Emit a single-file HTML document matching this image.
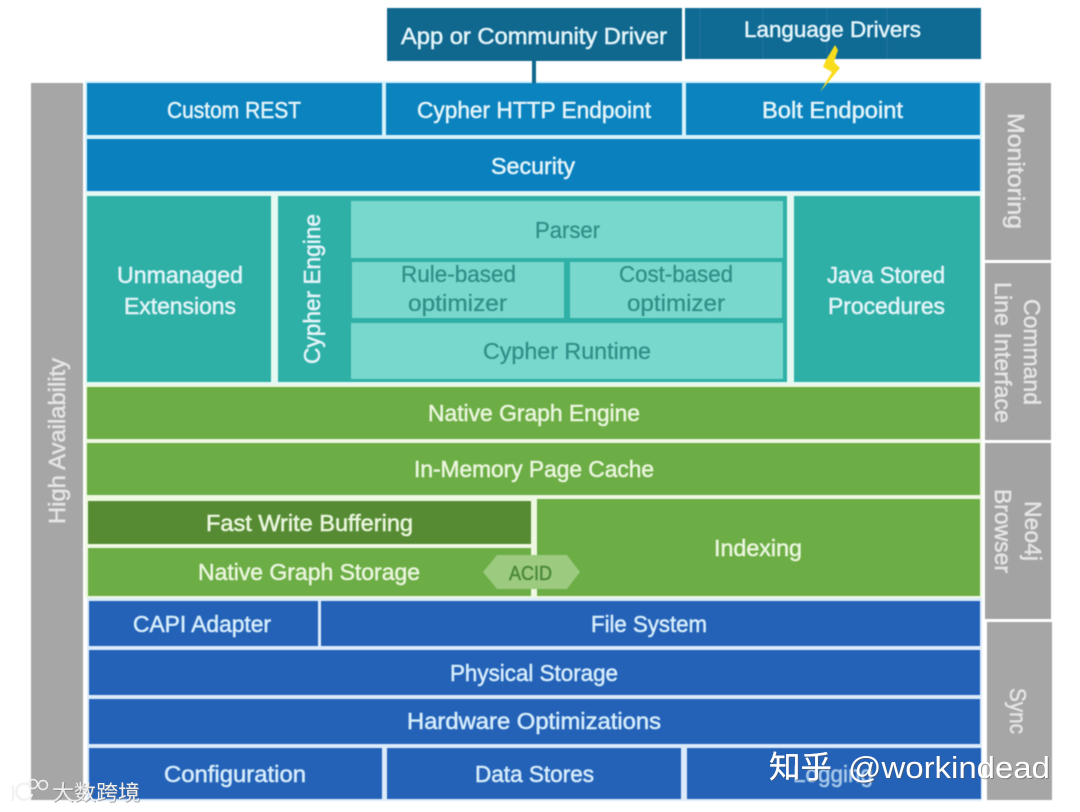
<!DOCTYPE html>
<html><head><meta charset="utf-8"><style>
html,body{margin:0;padding:0;background:#fff;width:1080px;height:812px;overflow:hidden}
svg{display:block;position:absolute;left:0;top:0}
#d{filter:blur(.6px)}
#d text{font-family:"Liberation Sans","Noto Sans CJK SC",sans-serif;font-size:23px;fill:#e2f3f8;stroke:#e2f3f8;stroke-width:.55px}
#m text{font-family:"Liberation Sans","Noto Sans CJK SC",sans-serif}
#d .t{fill:#2f908a;stroke:#2f908a;stroke-width:.3px}
#d .g{fill:#e9f5dc;stroke:#e9f5dc}
#d .w{fill:#e4e4e4;stroke:#e4e4e4}
#d .b{fill:#d5ecfa;stroke:#d5ecfa}
</style></head><body>
<svg id="d" width="1080" height="812" viewBox="0 0 1080 812" xmlns="http://www.w3.org/2000/svg">
<rect width="1080" height="812" fill="#fff"/>
<rect x="85" y="81" width="897" height="111" fill="#d8f2fb"/>
<rect x="85" y="192" width="897" height="193" fill="#e6f8f2"/>
<rect x="85" y="385" width="897" height="213" fill="#eef8e2"/>
<rect x="87" y="598" width="895" height="203" fill="#dcebfa"/>
<rect x="387" y="8" width="295" height="53" fill="#10688f"/>
<rect x="685" y="8" width="296" height="51" fill="#0f6a94"/>
<rect x="532" y="61" width="4" height="22" fill="#10688f"/>
<g stroke="#2f80a8" stroke-width="1" opacity=".6"><path d="M700 8V59M763 8V59M827 8V59M887 8V59"/></g>
<rect x="87" y="83" width="295" height="52" fill="#0a83bf"/>
<rect x="386" y="83" width="296" height="52" fill="#0a83bf"/>
<rect x="686" y="83" width="294" height="52" fill="#0a83bf"/>
<rect x="87" y="139" width="893" height="52" fill="#0a80bf"/>
<rect x="87" y="196" width="184" height="186" fill="#2eb0a6"/>
<rect x="278" y="196" width="509" height="186" fill="#2eb0a6"/>
<rect x="794" y="196" width="186" height="186" fill="#2eb0a6"/>
<rect x="351" y="201" width="432" height="57" fill="#79d8cd"/>
<rect x="352" y="262" width="212" height="56" fill="#79d8cd"/>
<rect x="570" y="262" width="212" height="56" fill="#79d8cd"/>
<rect x="351" y="323" width="432" height="56" fill="#79d8cd"/>
<rect x="87" y="387" width="893" height="52" fill="#6cad45"/>
<rect x="87" y="443" width="893" height="52" fill="#6cad45"/>
<rect x="88" y="501" width="443" height="43" fill="#568b34"/>
<rect x="88" y="548" width="443" height="48" fill="#6cad45"/>
<rect x="537" y="499" width="443" height="97" fill="#6cad45"/>
<polygon points="483,572 497,555 567,555 580,572 567,589 497,589" fill="#9ccb80"/>
<rect x="89" y="601" width="229" height="45" fill="#2462b8"/>
<rect x="321" y="601" width="659" height="45" fill="#2462b8"/>
<rect x="89" y="650" width="891" height="45" fill="#2462b8"/>
<rect x="89" y="699" width="891" height="45" fill="#2462b8"/>
<rect x="89" y="748" width="293" height="51" fill="#2462b8"/>
<rect x="387" y="748" width="294" height="51" fill="#2462b8"/>
<rect x="687" y="748" width="294" height="51" fill="#2462b8"/>
<rect x="31" y="83" width="52" height="717" fill="#a6a6a6"/>
<rect x="985" y="83" width="66" height="177" fill="#a3a3a3"/>
<rect x="985" y="263" width="66" height="177" fill="#a3a3a3"/>
<rect x="985" y="443" width="66" height="176" fill="#a3a3a3"/>
<rect x="987" y="622" width="65" height="178" fill="#a6a6a6"/>
<text x="401" y="44" textLength="266" lengthAdjust="spacingAndGlyphs">App or Community Driver</text>
<text x="744" y="37" textLength="177" lengthAdjust="spacingAndGlyphs" style="font-size:22px">Language Drivers</text>
<text x="167" y="118" textLength="134" lengthAdjust="spacingAndGlyphs">Custom REST</text>
<text x="417" y="118" textLength="234" lengthAdjust="spacingAndGlyphs">Cypher HTTP Endpoint</text>
<text x="762" y="118" textLength="141" lengthAdjust="spacingAndGlyphs">Bolt Endpoint</text>
<text x="491" y="174" textLength="84" lengthAdjust="spacingAndGlyphs">Security</text>
<text x="117" y="283" textLength="126" lengthAdjust="spacingAndGlyphs">Unmanaged</text>
<text x="124" y="314" textLength="112" lengthAdjust="spacingAndGlyphs">Extensions</text>
<text x="827" y="283" textLength="118" lengthAdjust="spacingAndGlyphs">Java Stored</text>
<text x="828" y="314" textLength="117" lengthAdjust="spacingAndGlyphs">Procedures</text>
<text class="t" x="535" y="238" textLength="65" lengthAdjust="spacingAndGlyphs">Parser</text>
<text class="t" x="401" y="282" textLength="115" lengthAdjust="spacingAndGlyphs">Rule-based</text>
<text class="t" x="408" y="311" textLength="99" lengthAdjust="spacingAndGlyphs">optimizer</text>
<text class="t" x="619" y="282" textLength="114" lengthAdjust="spacingAndGlyphs">Cost-based</text>
<text class="t" x="627" y="311" textLength="98" lengthAdjust="spacingAndGlyphs">optimizer</text>
<text class="t" x="483" y="359" textLength="168" lengthAdjust="spacingAndGlyphs">Cypher Runtime</text>
<text class="g" x="428" y="421" textLength="212" lengthAdjust="spacingAndGlyphs">Native Graph Engine</text>
<text class="g" x="414" y="477" textLength="240" lengthAdjust="spacingAndGlyphs">In-Memory Page Cache</text>
<text class="g" x="206" y="531" textLength="207" lengthAdjust="spacingAndGlyphs">Fast Write Buffering</text>
<text class="g" x="198" y="580" textLength="222" lengthAdjust="spacingAndGlyphs">Native Graph Storage</text>
<text class="g" x="714" y="556" textLength="88" lengthAdjust="spacingAndGlyphs">Indexing</text>
<text x="509" y="580" textLength="43" lengthAdjust="spacingAndGlyphs" style="fill:#4d8a3a;stroke:#4d8a3a;font-size:20px">ACID</text>
<text class="b" x="133" y="632" textLength="138" lengthAdjust="spacingAndGlyphs">CAPI Adapter</text>
<text class="b" x="591" y="632" textLength="116" lengthAdjust="spacingAndGlyphs">File System</text>
<text class="b" x="450" y="681" textLength="168" lengthAdjust="spacingAndGlyphs">Physical Storage</text>
<text class="b" x="407" y="729" textLength="254" lengthAdjust="spacingAndGlyphs">Hardware Optimizations</text>
<text class="b" x="164" y="782" textLength="142" lengthAdjust="spacingAndGlyphs">Configuration</text>
<text class="b" x="475" y="782" textLength="119" lengthAdjust="spacingAndGlyphs">Data Stores</text>
<text class="b" x="793" y="782" textLength="80" lengthAdjust="spacingAndGlyphs" style="opacity:.75">Logging</text>
<text class="w" transform="translate(65,524) rotate(-90)" x="0" y="0" textLength="166" lengthAdjust="spacingAndGlyphs">High Availability</text>
<text transform="translate(320,364) rotate(-90)" x="0" y="0" textLength="150" lengthAdjust="spacingAndGlyphs">Cypher Engine</text>
<text class="w" transform="translate(1008,113) rotate(90)" x="0" y="0" textLength="116" lengthAdjust="spacingAndGlyphs">Monitoring</text>
<text class="w" transform="translate(1024,299) rotate(90)" x="0" y="0" textLength="106" lengthAdjust="spacingAndGlyphs">Command</text>
<text class="w" transform="translate(995,282) rotate(90)" x="0" y="0" textLength="141" lengthAdjust="spacingAndGlyphs">Line Interface</text>
<text class="w" transform="translate(1025,501) rotate(90)" x="0" y="0" textLength="60" lengthAdjust="spacingAndGlyphs">Neo4j</text>
<text class="w" transform="translate(995,489) rotate(90)" x="0" y="0" textLength="84" lengthAdjust="spacingAndGlyphs">Browser</text>
<text class="w" transform="translate(1010,688) rotate(90)" x="0" y="0" textLength="46" lengthAdjust="spacingAndGlyphs">Sync</text>
<polygon points="835,45 826,60 823,67 832,72 820,92 840,68 834,62 838,50" fill="#f9dd1c"/>
</svg>
<svg id="m" width="1080" height="812" viewBox="0 0 1080 812" xmlns="http://www.w3.org/2000/svg">
<g fill="#555" opacity=".55">
<text x="770" y="779" style="font-size:31px" textLength="63" lengthAdjust="spacingAndGlyphs">知乎</text>
<text x="849" y="779" style="font-size:31px" textLength="202" lengthAdjust="spacingAndGlyphs">@workindead</text>
</g>
<text x="769" y="778" style="font-size:31px;fill:#fff;stroke:#fff;stroke-width:.3px" textLength="63" lengthAdjust="spacingAndGlyphs">知乎</text>
<text x="848" y="778" style="font-size:31px;fill:#fff" textLength="202" lengthAdjust="spacingAndGlyphs">@workindead</text>
<text x="53" y="801" style="font-size:21px;fill:#777;opacity:.6" textLength="88" lengthAdjust="spacingAndGlyphs">大数跨境</text>
<text x="52" y="800" style="font-size:21px;fill:#eee" textLength="88" lengthAdjust="spacingAndGlyphs">大数跨境</text>
<g fill="none" stroke="#f2f2f2" stroke-width="2.5"><path d="M13 785V801"/><path d="M30 786a8 8 0 1 0 2 8"/><circle cx="33" cy="784" r="4.5" stroke-width="1.5"/><circle cx="43" cy="785" r="4.5" stroke-width="1.5"/></g>
</svg>
</body></html>
